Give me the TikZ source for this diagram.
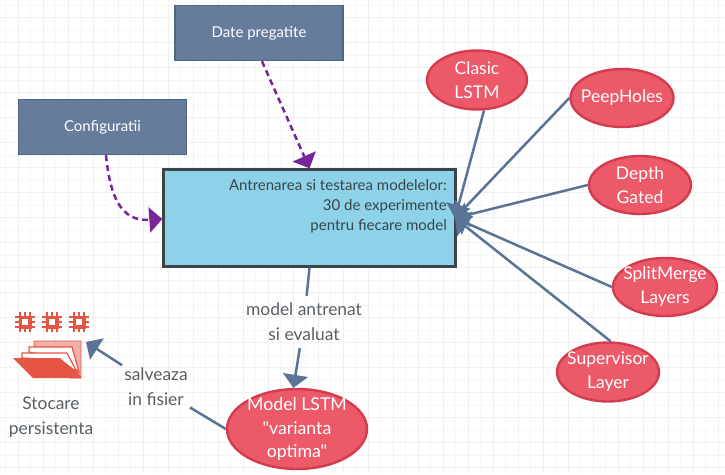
\documentclass[tikz,border=0pt]{standalone}
\usepackage{fontspec}
\setmainfont{Lato}[Ligatures=TeXOff]
\usetikzlibrary{arrows.meta,shapes.geometric}
\definecolor{gridA}{HTML}{EFF0F1}
\definecolor{gridB}{HTML}{F6F7F7}
\definecolor{slatefill}{HTML}{657C9C}
\definecolor{slateedge}{HTML}{4F6688}
\definecolor{skyfill}{HTML}{8ED2EA}
\definecolor{skyedge}{HTML}{3A4548}
\definecolor{rosefill}{HTML}{EC5A6A}
\definecolor{roseedge}{HTML}{D33C4E}
\definecolor{linkblue}{HTML}{5A7396}
\definecolor{purplelink}{HTML}{7A249C}
\definecolor{labelgray}{HTML}{5A5F64}
\definecolor{iconred}{HTML}{E55544}
\definecolor{iconlight}{HTML}{F2B0A8}
\tikzset{
 slatebox/.style={rectangle,draw=slateedge,fill=slatefill,line width=1.4pt,text=white,font=\fontsize{15}{18}\selectfont,inner sep=0pt},
 redoval/.style={ellipse,draw=roseedge,fill=rosefill,line width=2.4pt,text=white,font=\fontsize{17.5}{24}\selectfont,align=center,inner sep=-15pt},
 linklabel/.style={text=labelgray,font=\fontsize{17.4}{25}\selectfont,align=center,inner ysep=0pt,inner xsep=2pt},
 bluelink/.style={draw=linkblue,line width=2.5pt,-{Triangle[length=13pt,width=25pt]}},
 plainlink/.style={draw=linkblue,line width=2.5pt},
 purplearrow/.style={draw=purplelink,line width=2.5pt,dash pattern=on 6pt off 4pt,-{Triangle[length=13pt,width=25pt]}},
 chip/.pic={
   \foreach \k in {-5,0,5}{
     \draw[iconred,line width=1.1pt] (\k,-10)--(\k,10);
     \draw[iconred,line width=1.1pt] (-10,\k)--(10,\k);}
   \fill[iconred] (-6.5,-6.5) rectangle (6.5,6.5);
   \fill[white] (-2.7,-2.7) rectangle (2.7,2.7);
 }
}
\begin{document}
\begin{tikzpicture}[x=1pt,y=-1pt]
\useasboundingbox (0,0) rectangle (725,474);
\fill[white] (0,0) rectangle (725,474);
\foreach \i in {0,...,57}{
  \pgfmathsetmacro{\xx}{5.5+12.5*\i}
  \draw[gridB,line width=1pt] (\xx,0)--(\xx,474);}
\foreach \i in {0,...,37}{
  \pgfmathsetmacro{\yy}{5+12.5*\i}
  \draw[gridB,line width=1pt] (0,\yy)--(725,\yy);}
\foreach \i in {0,...,28}{
  \pgfmathsetmacro{\xx}{18+25*\i}
  \draw[gridA,line width=.8pt] (\xx,0)--(\xx,474);}
\foreach \i in {0,...,18}{
  \pgfmathsetmacro{\yy}{17.5+25*\i}
  \draw[gridA,line width=.8pt] (0,\yy)--(725,\yy);}

\node[slatebox,minimum width=168pt,minimum height=55pt] (date) at (259,33) {Date pregatite};
\node[slatebox,minimum width=168pt,minimum height=55pt] (config) at (102.5,127) {Configuratii};
\node[rectangle,draw=skyedge,fill=skyfill,line width=2.4pt,minimum width=292pt,minimum height=97pt,inner sep=0pt] (mainbox) at (309.5,218) {};
\node[anchor=north east,align=right,text=skyedge,font=\fontsize{15}{20}\selectfont,inner sep=0pt] (maintext) at (447,179.5) {Antrenarea si testarea modelelor:\\30 de experimente\\pentru fiecare model};

\node[redoval,minimum width=100pt,minimum height=59pt] (clasic) at (477,80) {Clasic\\LSTM};
\node[redoval,minimum width=103pt,minimum height=58pt] (peep) at (622,98) {PeepHoles};
\node[redoval,minimum width=102pt,minimum height=58pt] (depth) at (640,185) {Depth\\Gated};
\node[redoval,minimum width=104pt,minimum height=58pt] (split) at (665,287) {SplitMerge\\Layers};
\node[redoval,minimum width=102pt,minimum height=59pt] (super) at (608,372) {Supervisor\\Layer};
\node[redoval,minimum width=140pt,minimum height=80pt,font=\fontsize{17.7}{23.5}\selectfont] (model) at (297,429) {Model LSTM\\"varianta\\optima"};

\node[linklabel,minimum height=52pt] (lblmodel) at (304,322) {model antrenat\\si evaluat};
\node[linklabel,minimum height=50pt] (lblsave) at (156,387) {salveaza\\in fisier};
\node[text=labelgray,font=\fontsize{17.4}{25}\selectfont,align=center,inner sep=0pt] (stocare) at (51,417) {Stocare\\persistenta};

\coordinate (hub) at (455,218);
\coordinate (foldertip) at (86,342);

\draw[bluelink] (clasic.-77) -- (hub);
\draw[bluelink] (peep.west) -- (hub);
\draw[bluelink] (depth.west) -- (hub);
\draw[bluelink] (split.west) -- (hub);
\draw[bluelink] (super.85) -- (hub);
\draw[plainlink] (mainbox.south) -- (lblmodel);
\draw[bluelink] (lblmodel) -- (model.95);
\draw[plainlink] (model.west) -- (lblsave);
\draw[bluelink] (lblsave) -- (foldertip);

\draw[purplearrow] (date.-84) -- (mainbox.north);
\draw[purplearrow] (config.-83) .. controls (110,195) and (120,222) .. (mainbox.west |- 0,219);

% storage icon
\foreach \cx in {25,52,79}{ \pic at (\cx,322) {chip}; }
\fill[iconlight,draw=iconred,line width=.7pt] (34,341) -- (81,341) -- (81,378) -- (70,378) -- (34,345) -- cycle;
\draw[iconred,fill=white,line width=1.2pt] (29,347) -- (72,347) -- (79,372) -- (60,358) -- (29,352) -- cycle;
\draw[iconred,fill=white,line width=1.2pt] (22,353) -- (67,353) -- (77,372) -- (60,360) -- (22,358) -- cycle;
\fill[iconred] (13,358) -- (60,358) -- (81,376) -- (81,378) -- (33,378) -- cycle;
\end{tikzpicture}
\end{document}
